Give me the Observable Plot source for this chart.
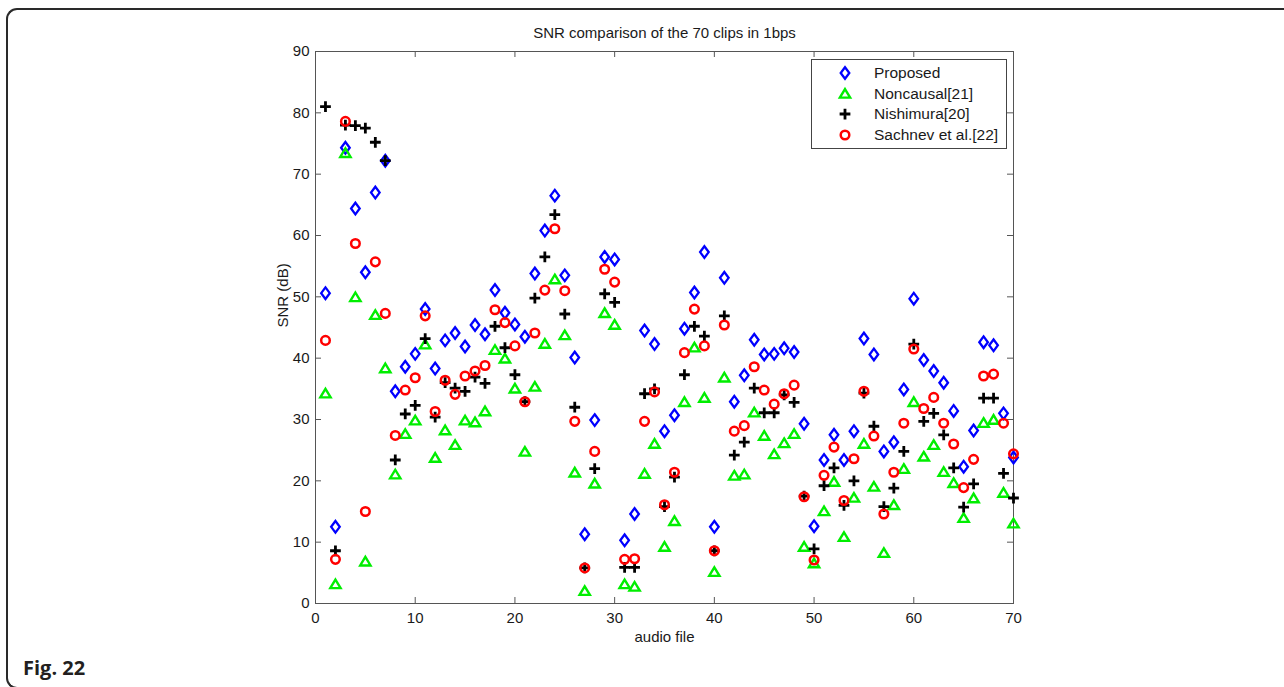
<!DOCTYPE html>
<html>
<head>
<meta charset="utf-8">
<script src="https://cdn.jsdelivr.net/npm/d3@7"></script>
<script src="https://cdn.jsdelivr.net/npm/@observablehq/plot@0.6"></script>
<style>
  html, body { margin: 0; padding: 0; background: #fff; overflow: hidden; width: 1284px; height: 687px; }
  #wrap { position: relative; width: 1284px; height: 687px; }
  #box { position: absolute; left: 6px; top: 8px; width: 1300px; height: 681px; border: 2px solid #2a2a2a;
         border-right: none; border-radius: 11px 0 0 11px; box-sizing: border-box; }
  #fig { position: absolute; left: 23px; top: 658px; font: bold 20px "Open Sans", sans-serif; line-height: 20px; color: #231f20; }
  #chart { position: absolute; left: 0; top: 0; }
  #legend { position: absolute; left: 811px; top: 59px; }
</style>
</head>
<body>
<div id="wrap">
  <div id="box"></div>
  <div id="chart"></div>
  <div id="legend"></div>
  <div id="fig">Fig. 22</div>
</div>
<script>
const title = "SNR comparison of the 70 clips in 1bps";
const xLabel = "audio file";
const yLabel = "SNR (dB)";
const seriesNames = ["Proposed", "Noncausal[21]", "Nishimura[20]", "Sachnev et al.[22]"];
const xTicks = [0, 10, 20, 30, 40, 50, 60, 70];
const yTicks = [0, 10, 20, 30, 40, 50, 60, 70, 80, 90];
const files = d3.range(1, 71);

const proposed = [50.6,12.5,74.3,64.4,54.0,67.0,72.2,34.6,38.6,40.7, 48.0,38.3,42.9,44.1,41.9,45.4,43.9,51.1,47.4,45.5,
  43.5,53.8,60.8,66.5,53.5,40.1,11.3,29.9,56.5,56.1, 10.3,14.6,44.5,42.3,28.1,30.7,44.8,50.7,57.3,12.5,
  53.1,32.9,37.2,43.0,40.6,40.7,41.6,41.0,29.3,12.6, 23.4,27.5,23.4,28.1,43.2,40.6,24.8,26.3,34.9,49.7,
  39.7,37.9,36.0,31.4,22.3,28.2,42.6,42.1,31.0,23.8];
const noncausal = [34.2,3.1,73.4,49.9,6.8,47.0,38.3,21.0,27.6,29.8, 42.2,23.7,28.2,25.8,29.8,29.5,31.3,41.3,39.9,35.0,
  24.7,35.3,42.3,52.8,43.7,21.3,2.0,19.5,47.3,45.4, 3.1,2.7,21.1,26.0,9.2,13.4,32.8,41.7,33.5,5.1,
  36.8,20.8,21.0,31.1,27.3,24.3,26.1,27.6,9.2,6.5, 15.0,19.8,10.8,17.2,26.0,19.0,8.2,16.0,21.9,32.8,
  23.9,25.8,21.4,19.6,13.9,17.1,29.4,29.9,18.0,13.0];
const nishimura = [81.0,8.6,78.0,77.9,77.5,75.2,72.2,23.4,30.9,32.3, 43.2,30.4,36.0,35.1,34.6,36.9,35.9,45.2,41.7,37.3,
  32.9,49.8,56.5,63.4,47.2,32.0,5.8,22.0,50.5,49.1, 5.9,5.9,34.2,35.0,15.8,20.6,37.3,45.2,43.6,8.6,
  46.9,24.2,26.3,35.1,31.1,31.1,34.0,32.8,17.5,8.9, 19.2,22.1,16.0,20.0,34.3,28.9,15.8,18.8,24.8,42.3,
  29.7,31.0,27.5,22.1,15.7,19.5,33.5,33.5,21.2,17.2];
const sachnev = [42.9,7.2,78.6,58.7,15.0,55.7,47.3,27.4,34.8,36.8, 46.9,31.3,36.4,34.1,37.1,37.9,38.8,47.9,45.8,42.0,
  32.9,44.1,51.1,61.1,51.0,29.7,5.8,24.8,54.5,52.4, 7.2,7.3,29.7,34.5,16.1,21.4,40.9,48.0,42.0,8.6,
  45.4,28.1,29.0,38.6,34.8,32.5,34.2,35.6,17.4,7.1, 20.9,25.5,16.8,23.6,34.6,27.3,14.6,21.4,29.4,41.5,
  31.8,33.6,29.4,26.0,18.9,23.5,37.1,37.4,29.4,24.4];

// custom MATLAB-like marker shapes
const diamond = { draw(c, size) { const r = Math.sqrt(size / Math.PI), h = r * 1.35, w = r * 1.0;
  c.moveTo(0, -h); c.lineTo(w, 0); c.lineTo(0, h); c.lineTo(-w, 0); c.closePath(); } };
const triangle = { draw(c, size) { const r = Math.sqrt(size / Math.PI);
  c.moveTo(0, -r * 1.15); c.lineTo(r * 1.2, r * 0.85); c.lineTo(-r * 1.2, r * 0.85); c.closePath(); } };
const plus = { draw(c, size) { const r = Math.sqrt(size / Math.PI) * 1.25;
  c.moveTo(-r, 0); c.lineTo(r, 0); c.moveTo(0, -r); c.lineTo(0, r); } };
const circle = { draw(c, size) { const r = Math.sqrt(size / Math.PI);
  c.moveTo(r, 0); c.arc(0, 0, r, 0, 2 * Math.PI); } };

const series = [
  { name: seriesNames[0], values: proposed, color: "#0000ff", symbol: diamond, sw: 2.3 },
  { name: seriesNames[1], values: noncausal, color: "#00ee00", symbol: triangle, sw: 2.4 },
  { name: seriesNames[2], values: nishimura, color: "#000000", symbol: plus, sw: 2.8 },
  { name: seriesNames[3], values: sachnev, color: "#ff0000", symbol: circle, sw: 2.5 }
];

const W = 1284, H = 687, mL = 315, mR = 271, mT = 51, mB = 84;
const pw = W - mL - mR, ph = H - mT - mB, tk = 6;

const chart = Plot.plot({
  width: W, height: H,
  marginLeft: mL, marginRight: mR, marginTop: mT, marginBottom: mB,
  style: { fontSize: "15px", fontFamily: "'Liberation Sans', Arial, sans-serif", color: "#1a1a1a", background: "transparent" },
  x: { domain: [0, 70] },
  y: { domain: [0, 90] },
  marks: [
    Plot.frame({ stroke: "#555" }),
    Plot.tickY(yTicks, { y: d => d, insetRight: pw - tk, stroke: "#555" }),
    Plot.tickY(yTicks, { y: d => d, insetLeft: pw - tk, stroke: "#555" }),
    Plot.tickX(xTicks, { x: d => d, insetBottom: ph - tk, stroke: "#555" }),
    Plot.tickX(xTicks, { x: d => d, insetTop: ph - tk, stroke: "#555" }),
    Plot.axisY(yTicks, { tickSize: 0, tickPadding: 6, label: null }),
    Plot.axisX(xTicks, { tickSize: 0, tickPadding: 9, label: null }),
    ...series.map(s => Plot.dot(files, {
      x: d => d, y: (d, i) => s.values[i],
      symbol: s.symbol, stroke: s.color, fill: "none", r: 4.3, strokeWidth: s.sw
    })),
    Plot.text([title], { frameAnchor: "top", dy: -18, lineAnchor: "middle", fontSize: 15 }),
    Plot.text([xLabel], { frameAnchor: "bottom", dy: 34, lineAnchor: "middle", fontSize: 15 }),
    Plot.text([yLabel], { frameAnchor: "left", dx: -32, rotate: -90, lineAnchor: "middle", fontSize: 15 })
  ]
});
document.getElementById("chart").appendChild(chart);

// legend box
const lw = 196, lh = 90;
const lsvg = d3.select("#legend").append("svg").attr("width", lw).attr("height", lh)
  .style("font-family", "'Liberation Sans', Arial, sans-serif").style("font-size", "15.5px");
lsvg.append("rect").attr("x", 0.5).attr("y", 0.5).attr("width", lw - 1).attr("height", lh - 1)
  .attr("fill", "#fff").attr("stroke", "#444");
const rowY = [14, 35, 55, 76];
series.forEach((s, i) => {
  lsvg.append("path").attr("transform", `translate(34,${rowY[i]})`)
    .attr("d", d3.symbol().type(s.symbol).size(Math.PI * 4.3 * 4.3)())
    .attr("fill", "none").attr("stroke", s.color).attr("stroke-width", s.sw);
  lsvg.append("text").attr("x", 63).attr("y", rowY[i]).attr("dy", "0.35em").attr("fill", "#1a1a1a").text(s.name);
});
</script>
</body>
</html>
